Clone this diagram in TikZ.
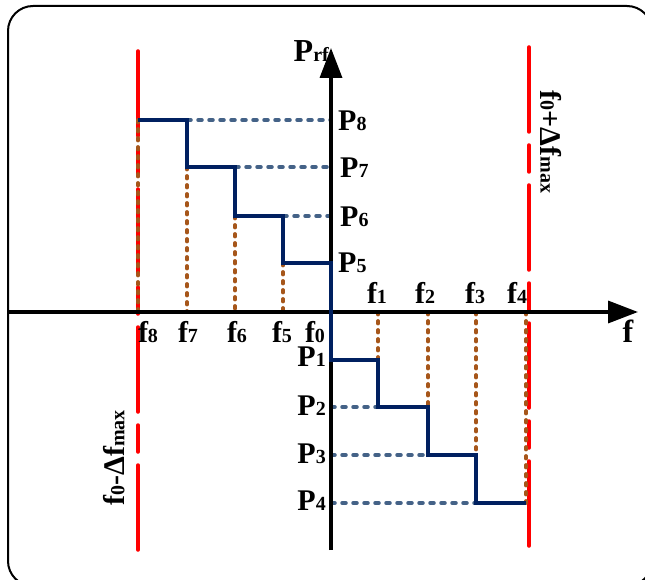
\documentclass[tikz,border=0pt]{standalone}
\usepackage{fontspec}
\setmainfont{Liberation Serif}
\usetikzlibrary{arrows.meta}
\definecolor{stairblue}{RGB}{0,32,96}
\definecolor{levelblue}{RGB}{68,98,135}
\definecolor{dotorange}{RGB}{166,86,26}
\definecolor{limitred}{RGB}{255,0,0}
\newcommand{\sml}[1]{{\fontsize{20}{20}\selectfont #1}}

\begin{document}
\begin{tikzpicture}[x=1pt,y=-1pt,
  lbl/.style={font=\fontsize{30}{30}\selectfont\bfseries, inner sep=0pt},
  biglbl/.style={font=\fontsize{32}{32}\selectfont\bfseries, inner sep=0pt},
  axisline/.style={line width=3.5pt, -{Triangle[length=30pt,width=22pt]}},
  limitline/.style={limitred, line width=3.5pt, line cap=round, dash pattern=on 85pt off 13pt on 27pt off 13pt},
  stair/.style={stairblue, line width=3.5pt},
  levelline/.style={levelblue, line width=3.5pt, line cap=round, dash pattern=on 4pt off 7pt},
  freqline/.style={dotorange, line width=3.8pt, line cap=round, dash pattern=on 2.5pt off 6.5pt}]
\useasboundingbox (0,0) rectangle (645,580);
\draw[line width=2pt, rounded corners=25pt] (8,6) rectangle (652,586);

\draw[limitline] (138,550) -- (138,47);
\draw[limitline] (529,47) -- (529,550);

\foreach \x/\y in {138/120,187/167,235/216,283/263}
  \draw[freqline] (\x,\y) -- (\x,312);
\foreach \x/\y in {378/360,428/407,476/455,526/503}
  \draw[freqline] (\x,312) -- (\x,\y);

\foreach \x/\y in {187/120,235/167,283/216}
  \draw[levelline] (\x,\y) -- (331,\y);
\foreach \x/\y in {378/407,428/455,476/503}
  \draw[levelline] (331,\y) -- (\x,\y);

\draw[axisline] (8,312) -- (638,312);
\draw[axisline] (331,550) -- (331,48);

\draw[stair] (138,120) -| (187,167) -| (235,216) -| (283,263) -| (331,360)
  -| (378,407) -| (428,455) -| (476,503) -- (526,503);

\node (prf) [biglbl, anchor=base east] at (329,62) {P\sml{rf}};
\node (faxis) [biglbl, anchor=base] at (628,342) {f};

\node (p8) [lbl, anchor=west] at (338,121) {P\sml{8}};
\node (p7) [lbl, anchor=west] at (340,168) {P\sml{7}};
\node (p6) [lbl, anchor=west] at (340,217) {P\sml{6}};
\node (p5) [lbl, anchor=west] at (338,263) {P\sml{5}};

\node (p1) [lbl, anchor=east] at (326,357) {P\sml{1}};
\node (p2) [lbl, anchor=east] at (326,406) {P\sml{2}};
\node (p3) [lbl, anchor=east] at (326,454) {P\sml{3}};
\node (p4) [lbl, anchor=east] at (326,501) {P\sml{4}};

\node (f8) [lbl, anchor=base] at (148,342) {f\sml{8}};
\node (f7) [lbl, anchor=base] at (188,342) {f\sml{7}};
\node (f6) [lbl, anchor=base] at (237,342) {f\sml{6}};
\node (f5) [lbl, anchor=base] at (282,342) {f\sml{5}};
\node (f0) [lbl, anchor=base] at (315,342) {f\sml{0}};

\node (f1) [lbl, anchor=base] at (377,303) {f\sml{1}};
\node (f2) [lbl, anchor=base] at (425,303) {f\sml{2}};
\node (f3) [lbl, anchor=base] at (475,303) {f\sml{3}};
\node (f4) [lbl, anchor=base] at (517,303) {f\sml{4}};

\node (fmaxup) [lbl, rotate=-90] at (551,142) {f\sml{0}+Δf\sml{max}};
\node (fmaxlow) [lbl, rotate=90] at (114,458) {f\sml{0}-Δf\sml{max}};
\end{tikzpicture}
\end{document}
